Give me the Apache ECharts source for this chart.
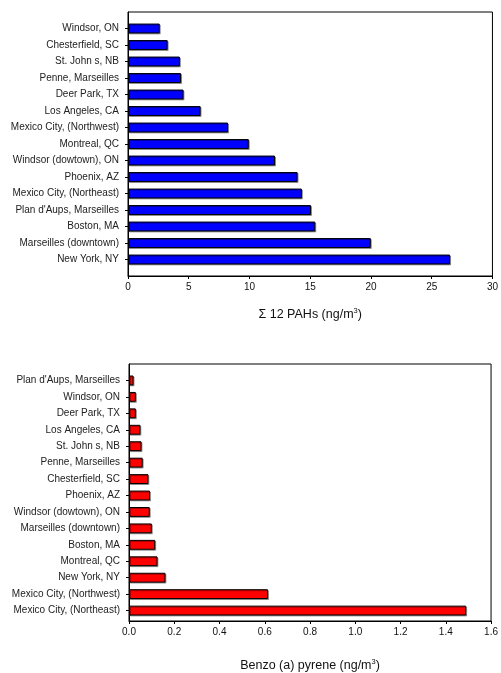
<!DOCTYPE html>
<html>
<head>
<meta charset="utf-8">
<script src="https://cdn.jsdelivr.net/npm/echarts@6/dist/echarts.min.js"></script>
<style>
html,body{margin:0;padding:0;background:#fff;}
#chart{width:501px;height:673px;}
</style>
</head>
<body>
<div id="chart"></div>
<script>
// Top chart: sum of 12 PAHs (ng/m3)
const sitesPAH = ['Windsor, ON','Chesterfield, SC','St. John s, NB','Penne, Marseilles','Deer Park, TX','Los Angeles, CA','Mexico City, (Northwest)','Montreal, QC','Windsor (dowtown), ON','Phoenix, AZ','Mexico City, (Northeast)',"Plan d'Aups, Marseilles",'Boston, MA','Marseilles (downtown)','New York, NY'];
const valuesPAH = [2.6,3.25,4.25,4.35,4.55,5.95,8.2,9.9,12.05,13.9,14.25,15.0,15.35,19.9,26.4];
const ticksPAH = {min:0, max:30, interval:5};

// Bottom chart: Benzo(a)pyrene (ng/m3)
const sitesBaP = ["Plan d'Aups, Marseilles",'Windsor, ON','Deer Park, TX','Los Angeles, CA','St. John s, NB','Penne, Marseilles','Chesterfield, SC','Phoenix, AZ','Windsor (dowtown), ON','Marseilles (downtown)','Boston, MA','Montreal, QC','New York, NY','Mexico City, (Northwest)','Mexico City, (Northeast)'];
const valuesBaP = [0.02,0.03,0.03,0.05,0.055,0.06,0.085,0.092,0.091,0.1,0.115,0.125,0.16,0.61,1.48];
const ticksBaP = {min:0, max:1.6, interval:0.2};

const FONT = 'Liberation Sans, Arial, sans-serif';
const chart = echarts.init(document.getElementById('chart'), null, {renderer:'canvas'});

// box geometry
const box1 = {left:128, right:7, top:12, height:264};
const box2 = {left:129, right:7.5, top:364, height:263};
function inner(b, n){ const band=b.height/(n+1); return {left:b.left, right:b.right, top:b.top+band/2, height:band*n}; }

function frameX(grid, t, nameRich, labelFmt, gap){
  return {
    type:'value', gridIndex:grid, min:t.min, max:t.max, interval:t.interval,
    axisLine:{show:true, onZero:false, lineStyle:{color:'#000', width:1}},
    axisTick:{show:true, inside:false, length:3, lineStyle:{color:'#000'}},
    splitLine:{show:false},
    axisLabel:{fontFamily:FONT, fontSize:10, color:'#111', margin:6, formatter:labelFmt},
    name:nameRich, nameLocation:'middle', nameGap:gap,
    nameTextStyle:{fontFamily:FONT, fontSize:12.5, color:'#111',
      rich:{a:{fontFamily:FONT, fontSize:12.5, color:'#111'}, s:{fontFamily:FONT, fontSize:7.5, color:'#111', verticalAlign:'top', padding:[0,0,7,0]}}}
  };
}
function hiddenX(grid, t){ return {type:'value', gridIndex:grid, min:t.min, max:t.max, show:false}; }
function frameY(grid){ return {type:'value', gridIndex:grid, min:0, max:1, show:true, axisLine:{show:true, lineStyle:{color:'#000'}}, axisTick:{show:false}, axisLabel:{show:false}, splitLine:{show:false}}; }
function catY(grid, cats){
  return {
    type:'category', gridIndex:grid, data:cats, inverse:true,
    axisLine:{show:false},
    axisTick:{show:true, alignWithLabel:true, length:3, lineStyle:{color:'#000'}},
    axisLabel:{fontFamily:FONT, fontSize:10, color:'#222', margin:9, interval:0}
  };
}
function bars(xi, yi, vals, color){
  return {
    type:'bar', xAxisIndex:xi, yAxisIndex:yi, data:vals, barWidth:'60%',
    itemStyle:{color:color, borderColor:'#000', borderWidth:1, shadowColor:'rgba(0,0,0,0.35)', shadowOffsetX:1, shadowOffsetY:1, shadowBlur:0},
    silent:true
  };
}

chart.setOption({
  backgroundColor:'#fff',
  animation:false,
  grid:[
    Object.assign({show:true, borderColor:'#000', borderWidth:1, backgroundColor:'transparent'}, box1),
    inner(box1, sitesPAH.length),
    Object.assign({show:true, borderColor:'#000', borderWidth:1, backgroundColor:'transparent'}, box2),
    inner(box2, sitesBaP.length)
  ],
  xAxis:[
    frameX(0, ticksPAH, '{a|Σ 12 PAHs (ng/m}{s|3}{a|)}', v => String(v), 31),
    hiddenX(1, ticksPAH),
    frameX(2, ticksBaP, '{a|Benzo (a) pyrene (ng/m}{s|3}{a|)}', v => v.toFixed(1), 37),
    hiddenX(3, ticksBaP)
  ],
  yAxis:[
    frameY(0),
    catY(1, sitesPAH),
    frameY(2),
    catY(3, sitesBaP)
  ],
  series:[
    bars(1, 1, valuesPAH, '#0000FF'),
    bars(3, 3, valuesBaP, '#FF0000')
  ]
});
</script>
</body>
</html>
